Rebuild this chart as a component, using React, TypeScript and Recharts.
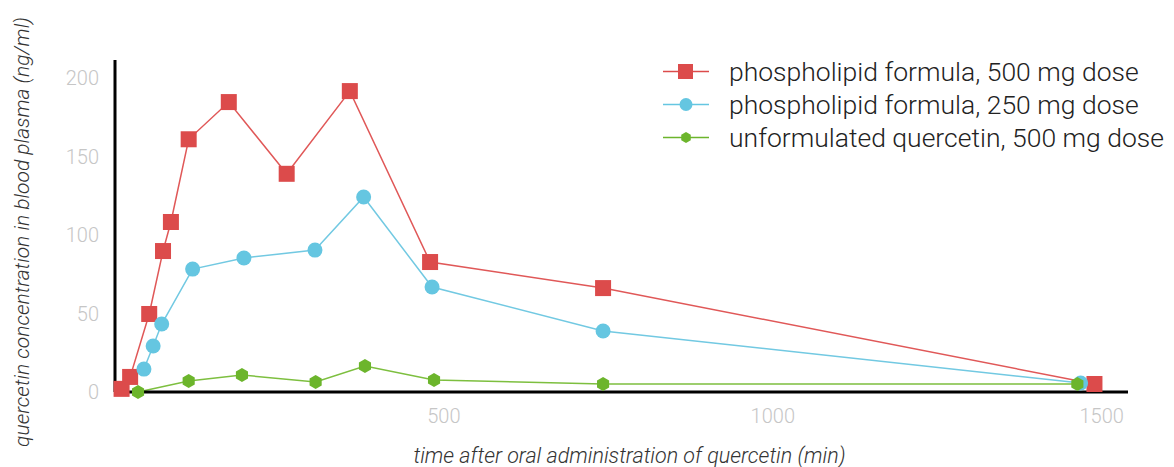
import React from 'react';
import { LineChart, Line, XAxis, YAxis } from 'recharts';

// time (min) and plasma concentration (ng/ml)
const redTimes = [10, 23, 52, 73, 85, 112, 173, 261, 357, 479, 742, 1489];
const redValues = [2, 9.6, 49.7, 89.8, 108.3, 161, 184.7, 139, 191.7, 82.8, 66.2, 5.1];

const blueTimes = [44, 58, 71, 118, 196, 304, 378, 482, 742, 1468];
const blueValues = [14.6, 29.3, 43.3, 78.3, 85.4, 90.4, 124.2, 66.9, 38.9, 5.7];

const greenTimes = [35, 112, 193, 305, 380, 485, 742, 1463];
const greenValues = [0, 7, 10.8, 6.4, 16.6, 7.6, 5.1, 5.1];

const xTicks = [500, 1000, 1500];
const yTicks = [0, 50, 100, 150, 200];

const seriesNames = [
  'phospholipid formula, 500 mg dose',
  'phospholipid formula, 250 mg dose',
  'unformulated quercetin, 500 mg dose',
];

const RED = '#dc4b4b';
const BLUE = '#65c6e1';
const GREEN = '#6cb52c';

const toRows = (times: number[], values: number[]) =>
  times.map((t, i) => ({ t, v: values[i] }));

const redData = toRows(redTimes, redValues);
const blueData = toRows(blueTimes, blueValues);
const greenData = toRows(greenTimes, greenValues);

const hexPoints = (cx: number, cy: number, r: number) =>
  [0, 1, 2, 3, 4, 5]
    .map((k) => {
      const a = (Math.PI / 3) * k - Math.PI / 2;
      return `${cx + r * Math.cos(a)},${cy + r * Math.sin(a)}`;
    })
    .join(' ');

const SquareDot = (props: any) => {
  const { cx, cy, index } = props;
  if (cx == null || cy == null) return <g key={`sq-${index}`} />;
  return <rect key={`sq-${index}`} x={cx - 8} y={cy - 8} width={16} height={16} fill={RED} />;
};

const CircleDot = (props: any) => {
  const { cx, cy, index } = props;
  if (cx == null || cy == null) return <g key={`ci-${index}`} />;
  return <circle key={`ci-${index}`} cx={cx} cy={cy} r={7.5} fill={BLUE} />;
};

const HexDot = (props: any) => {
  const { cx, cy, index } = props;
  if (cx == null || cy == null) return <g key={`hx-${index}`} />;
  return <polygon key={`hx-${index}`} points={hexPoints(cx, cy, 7)} fill={GREEN} />;
};

const legendMarker = (i: number) => {
  if (i === 0) return <rect x={15} y={4} width={15} height={15} fill={RED} />;
  if (i === 1) return <circle cx={23} cy={11.5} r={6.5} fill={BLUE} />;
  return <polygon points={hexPoints(23, 11.5, 5.5)} fill={GREEN} />;
};

// legend sits over the chart, top right
const ChartLegend = () => {
  const colors = [RED, BLUE, GREEN];
  return (
    <div style={{ position: 'absolute', left: 663, top: 55 }}>
      {seriesNames.map((name, i) => (
        <div key={name} style={{ display: 'flex', alignItems: 'center', height: 33 }}>
          <svg width={46} height={23} style={{ marginRight: 20 }}>
            <line x1={0} y1={11.5} x2={46} y2={11.5} stroke={colors[i]} strokeWidth={1.5} />
            {legendMarker(i)}
          </svg>
          <span
            style={{
              fontFamily: 'Roboto, sans-serif',
              fontWeight: 300,
              fontSize: 26.5,
              color: '#222',
              whiteSpace: 'nowrap',
            }}
          >
            {name}
          </span>
        </div>
      ))}
    </div>
  );
};

export default function App() {
  const tickStyle = { fill: '#c6c6c6', fontSize: 20, fontFamily: 'Roboto, sans-serif', fontWeight: 300 };
  const labelStyle = {
    fill: '#333',
    fontSize: 21.5,
    fontFamily: 'Roboto, sans-serif',
    fontWeight: 300,
    fontStyle: 'italic',
  };

  return (
    <div style={{ position: 'absolute', left: 0, top: 0, width: 1174, height: 467, background: '#fff' }}>
      <LineChart width={1174} height={467} margin={{ top: 60, right: 46, left: 0, bottom: 0 }}>
        <XAxis
          type="number"
          dataKey="t"
          domain={[0, 1540]}
          ticks={xTicks}
          allowDuplicatedCategory={false}
          axisLine={{ stroke: '#000', strokeWidth: 3 }}
          tickLine={false}
          tickSize={0}
          tickMargin={17}
          tick={tickStyle}
          height={75}
          label={{
            value: 'time after oral administration of quercetin (min)',
            position: 'insideBottom',
            offset: 4,
            dx: 8,
            style: labelStyle,
          }}
        />
        <YAxis
          type="number"
          dataKey="v"
          domain={[0, 211.5]}
          ticks={yTicks}
          width={115}
          axisLine={{ stroke: '#000', strokeWidth: 3 }}
          tickLine={false}
          tickSize={0}
          tickMargin={16}
          tick={tickStyle}
          label={{
            value: 'quercetin concentration in blood plasma (ng/ml)',
            angle: -90,
            position: 'insideLeft',
            offset: 0,
            dx: 22,
            dy: 6,
            style: { ...labelStyle, fontSize: 21, textAnchor: 'middle' },
          }}
        />
        <Line
          data={redData}
          dataKey="v"
          name={seriesNames[0]}
          stroke="#e05858"
          strokeWidth={1.5}
          dot={SquareDot}
          isAnimationActive={false}
        />
        <Line
          data={blueData}
          dataKey="v"
          name={seriesNames[1]}
          stroke="#72c9e2"
          strokeWidth={1.5}
          dot={CircleDot}
          isAnimationActive={false}
        />
        <Line
          data={greenData}
          dataKey="v"
          name={seriesNames[2]}
          stroke="#7dbf3f"
          strokeWidth={1.5}
          dot={HexDot}
          isAnimationActive={false}
        />
      </LineChart>
      <ChartLegend />
    </div>
  );
}
